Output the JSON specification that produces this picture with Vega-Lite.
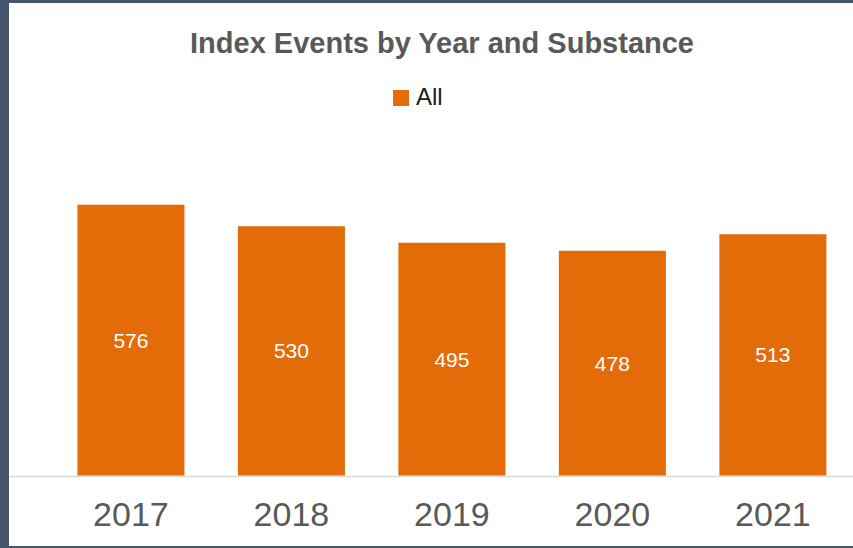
{
  "$schema": "https://vega.github.io/schema/vega-lite/v6.json",
  "autosize": "none",
  "width": 844,
  "height": 543,
  "padding": {"left": 9, "top": 3, "right": 0, "bottom": 2},
  "background": "#44546a",
  "view": {"fill": "#ffffff", "stroke": null},
  "config": {"font": "Liberation Sans"},
  "title": {
    "text": "Index Events by Year and Substance",
    "fontSize": 29,
    "font": "Liberation Sans",
    "fontWeight": "bold",
    "color": "#595959",
    "anchor": "middle",
    "orient": "top",
    "offset": -56,
    "dx": 11
  },
  "data": {
    "values": [
      {"year": "2017", "value": 576, "series": "All"},
      {"year": "2018", "value": 530, "series": "All"},
      {"year": "2019", "value": 495, "series": "All"},
      {"year": "2020", "value": 478, "series": "All"},
      {"year": "2021", "value": 513, "series": "All"}
    ]
  },
  "encoding": {
    "x": {
      "field": "year",
      "type": "nominal",
      "sort": null,
      "scale": {"paddingInner": 0.333, "paddingOuter": 0.296, "align": 0.72},
      "axis": {
        "title": null,
        "orient": "bottom",
        "offset": -70,
        "labelAngle": 0,
        "labelFontSize": 34,
        "labelColor": "#595959",
        "labelFont": "Liberation Sans",
        "labelPadding": 22,
        "ticks": false,
        "domainColor": "#d9d9d9",
        "domainWidth": 1.5,
        "grid": false
      }
    }
  },
  "layer": [
    {
      "mark": {"type": "bar", "color": "#e36c09"},
      "encoding": {
        "y": {
          "field": "value",
          "type": "quantitative",
          "scale": {"domain": [-150, 1005], "nice": false, "zero": false},
          "axis": null
        },
        "y2": {"datum": 0},
        "color": {
          "field": "series",
          "type": "nominal",
          "scale": {"range": ["#e36c09"]},
          "legend": {
            "title": null,
            "orient": "none",
            "legendX": 380,
            "legendY": 83,
            "symbolType": "square",
            "symbolSize": 256,
            "symbolStrokeWidth": 0,
            "labelFontSize": 24,
            "labelFont": "Liberation Sans",
            "labelColor": "#1a1a1a",
            "labelOffset": 3
          }
        }
      }
    },
    {
      "mark": {"type": "text", "color": "#ffffff", "fontSize": 21, "font": "Liberation Sans", "baseline": "middle", "align": "center", "dy": 1.5},
      "encoding": {
        "y": {
          "field": "value",
          "type": "quantitative",
          "scale": {"domain": [-300, 2010], "nice": false, "zero": false},
          "axis": null
        },
        "text": {"field": "value", "type": "quantitative"}
      }
    }
  ],
  "resolve": {"scale": {"y": "independent"}}
}
